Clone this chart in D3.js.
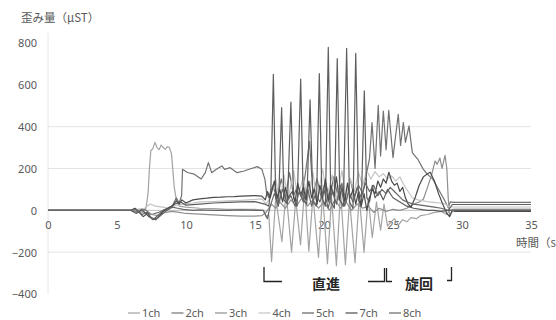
<!DOCTYPE html>
<html><head><meta charset="utf-8">
<script src="https://cdn.jsdelivr.net/npm/d3@7/dist/d3.min.js"></script>
<style>body{margin:0;background:#fff}svg{display:block}</style>
</head><body>
<svg id="c" width="556" height="320"></svg>
<script>
const seriesNames = ["1ch","2ch","3ch","4ch","5ch","7ch","8ch"];
const xTicks = [0,5,10,15,20,25,30,35];
const yTicks = [-400,-200,0,200,400,600,800];
const gridValues = [-200,200,400];

const ch1 = [[0,0],[6.0,0],[6.3,-5],[6.6,5],[6.9,-5],[7.1,10],[7.25,80],[7.35,200],[7.45,285],[7.6,295],[7.75,325],[7.9,300],[8.05,290],[8.2,312],[8.35,300],[8.5,292],[8.65,305],[8.8,300],[8.95,270],[9.05,190],[9.15,110],[9.3,50],[9.5,20],[10,15],[11,10],[12,8],[13,5],[14,5],[15,5],[15.6,0],[15.8,-30],[16.0,-20],
[16.2,-245],[16.5,60],[16.95,-150],[17.25,90],[17.65,-200],[17.95,50],[18.3,-165],[18.6,110],[18.9,-195],[19.2,70],[19.6,-225],[19.9,80],[20.25,-255],[20.55,60],[20.9,-265],[21.2,90],[21.55,-260],[21.85,50],[22.25,-250],[22.55,70],[22.9,-200],[23.2,60],[23.5,-130],[23.8,40],[24.1,-95],[24.35,30],[24.6,-75],
[24.8,-60],[25.1,-40],[25.4,-70],[25.7,-45],[26.0,-55],[26.3,-35],[26.7,-40],[27.0,-25],[27.5,-20],[28,-10],[28.5,-5],[28.9,-20],[29.1,0],[29.3,5],[30,5],[35,5]];

const ch2 = [[0,0],[6,0],[6.5,-10],[7,5],[7.5,-20],[8,-10],[8.5,5],[9,20],[9.3,60],[9.5,35],[9.68,70],[9.75,196],[10.1,181],[10.6,173],[11.1,150],[11.4,180],[11.62,228],[11.86,180],[12.2,196],[12.6,212],[12.8,196],[13.2,204],[13.7,180],[14.2,188],[14.68,199],[15.17,209],[15.5,196],[15.72,148],[15.84,85],[16.0,60],
[16.3,120],[16.6,50],[16.9,150],[17.2,60],[17.5,180],[17.8,70],[18.1,120],[18.4,60],[18.7,200],[18.95,330],[19.2,80],[19.5,150],[19.8,60],[20.1,140],[20.4,50],[20.7,160],[21.0,70],[21.3,130],[21.6,40],[21.9,150],[22.2,60],[22.5,120],[22.8,80],[23.1,180],[23.3,250],[23.48,420],[23.7,200],[23.93,502],[24.1,260],[24.3,475],[24.5,290],[24.69,478],[25.0,252],[25.38,459],[25.55,310],[25.75,420],[25.9,325],[26.16,404],[26.4,276],[26.8,244],[27.2,196],[27.5,172],[27.9,148],[28.3,100],[28.7,53],[29.0,14],[29.15,40],[29.4,38],[35,38]];

const ch3 = [[0,0],[6,0],[6.5,-5],[7,-10],[7.5,-20],[8,-25],[8.5,-10],[9,-5],[9.5,-10],[10,-15],[11,-18],[12,-22],[13,-25],[14,-28],[15,-28],[15.5,-25],[15.8,-10],[16.2,30],[16.5,10],
[16.8,40],[17.2,10],[17.6,50],[18,20],[18.4,60],[18.8,20],[19.2,50],[19.6,10],[20,40],[20.4,0],[20.8,50],[21.2,10],[21.6,40],[22,0],[22.4,30],[22.8,10],[23.2,20],[23.6,-10],[24,10],[24.5,-5],[25,5],[25.5,0],[26,10],[26.5,30],[26.9,40],[27.2,53],[27.5,110],[27.8,170],[28.05,236],[28.2,220],[28.4,250],[28.55,200],[28.77,263],[28.9,200],[29.0,60],[29.1,-30],[29.25,-10],[29.4,5],[35,5]];

const ch4 = [[0,0],[6,0],[6.5,5],[7,10],[7.4,30],[7.8,20],[8.3,15],[8.8,10],[9.3,25],[9.8,30],[10.5,35],[11,40],[12,42],[13,45],[14,48],[15,52],[15.5,55],[15.8,30],[16.1,60],
[16.5,150],[16.8,40],[17.1,170],[17.4,50],[17.8,190],[18.1,60],[18.5,160],[18.8,50],[19.2,180],[19.5,40],[19.9,200],[20.2,60],[20.6,170],[20.9,50],[21.3,190],[21.6,60],[21.9,150],[22.2,90],[22.5,180],[22.8,120],[23.1,190],[23.4,150],[23.7,185],[24,160],[24.3,175],[24.6,150],[24.9,165],[25.2,140],[25.5,160],[25.8,120],[26.1,90],[26.4,60],[26.8,50],[27.2,45],[27.6,40],[28,38],[28.4,35],[28.8,30],[29,20],[29.2,16],[35,16]];

const ch5 = [[0,0],[6,0],[6.4,-15],[6.8,5],[7.3,-30],[7.7,-40],[8.2,-10],[8.7,10],[9.2,30],[9.6,40],[10,25],[11,30],[12,35],[13,38],[14,40],[15,42],[15.7,30],[16.0,20],[16.15,100],
[16.33,650],[16.5,60],[16.7,20],[16.93,491],[17.1,50],[17.35,30],[17.6,518],[17.8,60],[18.05,20],[18.31,627],[18.5,50],[18.75,30],[18.99,528],[19.2,40],[19.45,20],[19.66,654],[19.85,60],[20.1,20],[20.31,779],[20.5,40],[20.75,10],[20.96,726],[21.15,50],[21.4,20],[21.64,774],[21.85,40],[22.1,10],[22.3,751],[22.5,50],[22.7,20],[22.92,571],[23.1,60],[23.3,40],[23.5,120],[23.7,60],[24,90],[24.3,50],[24.6,100],[25,60],[25.5,40],[26,20],[26.5,10],[27,5],[27.5,0],[28,0],[28.5,-5],[29,0],[29.3,28],[35,28]];

const ch7 = [[0,0],[6,0],[6.3,10],[6.6,-10],[6.9,-30],[7.2,-15],[7.5,-40],[7.8,-45],[8.1,-25],[8.4,0],[8.7,10],[9.0,20],[9.3,45],[9.5,30],[9.7,50],[10,35],[10.5,50],[11,55],[11.5,58],[12,62],[12.5,63],[13,65],[13.5,66],[14,68],[14.5,69],[15,70],[15.5,68],[15.75,50],[15.9,90],[16.1,60],
[16.4,140],[16.6,60],[16.8,100],[17.0,40],[17.2,110],[17.4,60],[17.7,90],[17.9,40],[18.1,130],[18.3,70],[18.5,110],[18.7,50],[18.9,140],[19.1,60],[19.3,100],[19.5,30],[19.7,120],[19.9,60],[20.1,150],[20.3,40],[20.5,120],[20.7,70],[20.9,160],[21.1,50],[21.3,110],[21.5,40],[21.7,130],[21.9,60],[22.1,100],[22.3,30],[22.5,90],[22.7,20],[22.9,80],[23.1,0],[23.3,60],[23.5,100],[23.7,80],[23.9,140],[24.1,110],[24.3,150],[24.5,130],[24.7,182],[24.9,140],[25.1,120],[25.3,130],[25.5,90],[25.7,110],[25.9,60],[26.1,30],[26.3,15],[26.6,60],[26.9,120],[27.2,160],[27.5,175],[27.7,182],[28.0,140],[28.3,80],[28.6,30],[28.9,-15],[29.1,-30],[29.3,0],[29.5,-5],[35,-5]];

const ch8 = [[0,0],[6,0],[6.4,5],[6.8,-20],[7.2,-10],[7.6,-45],[8.0,-35],[8.5,-5],[9,15],[9.4,10],[9.8,5],[10.5,0],[11,2],[12,0],[13,0],[14,2],[15,0],[15.6,0],[15.9,-40],[16.1,20],
[16.4,80],[16.7,30],[17.0,100],[17.3,40],[17.6,70],[17.9,20],[18.2,90],[18.5,40],[18.8,110],[19.1,20],[19.4,80],[19.7,40],[20.0,100],[20.3,10],[20.6,90],[20.9,30],[21.2,120],[21.5,20],[21.8,90],[22.1,40],[22.4,110],[22.7,60],[23.0,130],[23.3,90],[23.6,120],[23.9,70],[24.2,100],[24.5,80],[24.8,110],[25.1,90],[25.4,70],[25.7,50],[26.0,40],[26.5,30],[27,25],[27.5,20],[28,15],[28.5,10],[29,0],[35,0]];

const seriesData = [ch1,ch2,ch3,ch4,ch5,ch7,ch8];
const seriesColors = ["#a3a3a3","#727272","#8f8f8f","#c4c4c4","#5e5e5e","#4a4a4a","#666666"];

const svg = d3.select("#c");
const x = d3.scaleLinear().domain([0,35]).range([48,531]);
const y = d3.scaleLinear().domain([-400,800]).range([294,43]);
const numFont = "'Noto Sans', 'Open Sans', sans-serif";
const jpFont = "'Noto Sans CJK JP', sans-serif";

// gridlines
svg.append("g").selectAll("line").data(gridValues).join("line")
  .attr("x1",x(0)).attr("x2",x(35)).attr("y1",d=>y(d)).attr("y2",d=>y(d))
  .attr("stroke","#e3e3e3").attr("stroke-width",1);
// vertical axis line
svg.append("line").attr("x1",x(0)).attr("x2",x(0)).attr("y1",y(800)-10).attr("y2",y(-400))
  .attr("stroke","#e6e6e6");
// horizontal axis line at 0
svg.append("line").attr("x1",x(0)).attr("x2",x(35)).attr("y1",y(0)).attr("y2",y(0))
  .attr("stroke","#bfbfbf");

// y axis
const yAxis = d3.axisLeft(y).tickValues(yTicks).tickSize(0).tickPadding(0);
const gy = svg.append("g").attr("transform","translate(37,0)").call(yAxis);
gy.select(".domain").remove();
gy.selectAll("text").attr("font-family",numFont).attr("font-size",11).attr("fill","#595959").attr("dy","0.35em");

// x axis (labels below zero line)
const xAxis = d3.axisBottom(x).tickValues(xTicks).tickSize(0).tickPadding(0);
const gx = svg.append("g").attr("transform",`translate(0,${y(0)+11})`).call(xAxis);
gx.select(".domain").remove();
gx.selectAll("text").attr("font-family",numFont).attr("font-size",11).attr("fill","#595959").attr("dy","0.71em");

// series
const line = d3.line().x(d=>x(d[0])).y(d=>y(d[1]));
svg.append("g").selectAll("path").data(seriesData).join("path")
  .attr("d",line).attr("fill","none")
  .attr("stroke",(d,i)=>seriesColors[i]).attr("stroke-width",1.2).attr("stroke-linejoin","round");

// titles
svg.append("text").attr("x",21).attr("y",22).text("歪み量（μST）")
  .attr("font-family",jpFont).attr("font-size",11.5).attr("fill","#595959");
svg.append("text").attr("x",516).attr("y",247).text("時間（s）")
  .attr("font-family",jpFont).attr("font-size",11.5).attr("fill","#595959");

// annotations
const ann = svg.append("g").attr("fill","none").attr("stroke","#222").attr("stroke-width",1.3);
ann.append("path").attr("d","M264,267V281.5H282");
ann.append("path").attr("d","M368,281.5H384.5V268");
ann.append("path").attr("d","M386.5,268V281.5H392");
ann.append("path").attr("d","M451.5,267V280.5H447");
svg.append("text").attr("x",326).attr("y",289).attr("text-anchor","middle").text("直進")
  .attr("font-family",jpFont).attr("font-size",14).attr("font-weight","bold").attr("fill","#262626");
svg.append("text").attr("x",419).attr("y",289).attr("text-anchor","middle").text("旋回")
  .attr("font-family",jpFont).attr("font-size",14).attr("font-weight","bold").attr("fill","#262626");

// legend
const legendX = d3.scalePoint().domain(seriesNames).range([128,389]);
const lg = svg.append("g").selectAll("g").data(seriesNames).join("g")
  .attr("transform",d=>`translate(${legendX(d)},313)`);
lg.append("line").attr("x1",0).attr("x2",12).attr("y1",0).attr("y2",0)
  .attr("stroke",(d,i)=>seriesColors[i]).attr("stroke-width",1.2);
lg.append("text").attr("x",14).attr("dy","0.35em").text(d=>d)
  .attr("font-family",numFont).attr("font-size",11).attr("fill","#595959");
</script>
</body></html>
